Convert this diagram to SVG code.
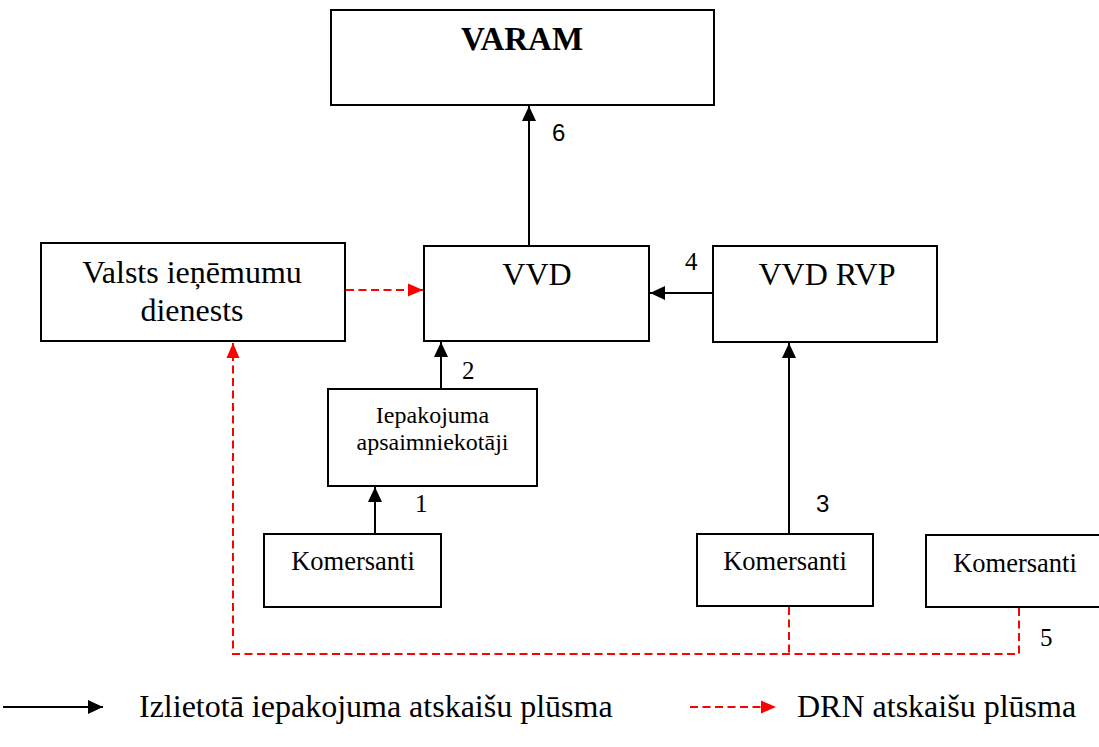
<svg xmlns="http://www.w3.org/2000/svg" width="1099" height="747" viewBox="0 0 1099 747">
<style>
.box{fill:#fff;stroke:#000;stroke-width:2}
.t{font-family:"Liberation Serif","Times New Roman",serif;fill:#000}
.big{font-size:32px}
.mid{font-size:26.5px}
.sm{font-size:24px}
.num{font-size:25px}
.blk{stroke:#000;stroke-width:2;fill:none}
.red{stroke:#f00;stroke-width:2;fill:none;stroke-dasharray:8 4.5}
</style>
<defs>
<marker id="ab" markerUnits="userSpaceOnUse" markerWidth="16" markerHeight="16" viewBox="0 0 16 16" refX="15" refY="8" orient="auto"><path d="M0,1 L15,8 L0,15 Z" fill="#000"/></marker>
<marker id="ar" markerUnits="userSpaceOnUse" markerWidth="16" markerHeight="16" viewBox="0 0 16 16" refX="15" refY="8" orient="auto"><path d="M0,1.5 L15,8 L0,14.5 Z" fill="#f00"/></marker>
</defs>
<g id="connectors">
<line class="blk" x1="529" y1="246" x2="529" y2="106" marker-end="url(#ab)"/>
<line class="blk" x1="441" y1="389" x2="441" y2="342" marker-end="url(#ab)"/>
<line class="blk" x1="713" y1="293" x2="650" y2="293" marker-end="url(#ab)"/>
<line class="blk" x1="375" y1="534" x2="375" y2="487" marker-end="url(#ab)"/>
<line class="blk" x1="789" y1="534" x2="789" y2="343" marker-end="url(#ab)"/>
<line class="red" x1="346" y1="290" x2="423" y2="290" marker-end="url(#ar)"/>
<path class="red" d="M1019,608 V654 H233 V343" marker-end="url(#ar)"/>
<path class="red" d="M789,607 V654"/>
<text class="t num" x="552" y="141" style="font-family:'Liberation Sans',Arial,sans-serif;font-size:24px">6</text>
<text class="t num" x="462" y="379">2</text>
<text class="t num" x="685" y="270">4</text>
<text class="t num" x="415" y="512">1</text>
<text class="t num" x="816" y="512" style="font-family:'Liberation Sans',Arial,sans-serif;font-size:24px">3</text>
<text class="t num" x="1040" y="646">5</text>
</g>
<g id="varam">
<rect class="box" x="331" y="10" width="383" height="95"/>
<text class="t" x="522" y="50" text-anchor="middle" font-weight="bold" font-size="33px">VARAM</text>
</g>
<g id="vid">
<rect class="box" x="41" y="243" width="304" height="98"/>
<text class="t big" x="192" y="283" text-anchor="middle">Valsts ieņēmumu</text>
<text class="t big" x="192" y="321" text-anchor="middle">dienests</text>
</g>
<g id="vvd">
<rect class="box" x="424" y="246" width="225" height="95"/>
<text class="t big" x="537" y="285" text-anchor="middle">VVD</text>
</g>
<g id="vvdrvp">
<rect class="box" x="713" y="246" width="224" height="96"/>
<text class="t big" x="827" y="285" text-anchor="middle">VVD RVP</text>
</g>
<g id="iepak">
<rect class="box" x="328" y="389" width="209" height="97"/>
<text class="t sm" x="432.5" y="423" text-anchor="middle">Iepakojuma</text>
<text class="t sm" x="432.5" y="450" text-anchor="middle">apsaimniekotāji</text>
</g>
<g id="kom1">
<rect class="box" x="264" y="534" width="177" height="73"/>
<text class="t mid" x="353" y="570" text-anchor="middle">Komersanti</text>
</g>
<g id="kom2">
<rect class="box" x="697" y="534" width="176" height="72"/>
<text class="t mid" x="785" y="570" text-anchor="middle">Komersanti</text>
</g>
<g id="kom3">
<rect class="box" x="926" y="535" width="180" height="72"/>
<text class="t mid" x="1015" y="572" text-anchor="middle">Komersanti</text>
</g>
<g id="legend">
<line class="blk" x1="3" y1="707" x2="103" y2="707" marker-end="url(#ab)"/>
<text class="t" x="139" y="717" font-size="32px">Izlietotā iepakojuma atskaišu plūsma</text>
<line class="red" x1="690" y1="707" x2="776" y2="707" marker-end="url(#ar)"/>
<text class="t" x="797" y="717" font-size="32px">DRN atskaišu plūsma</text>
</g>
</svg>
